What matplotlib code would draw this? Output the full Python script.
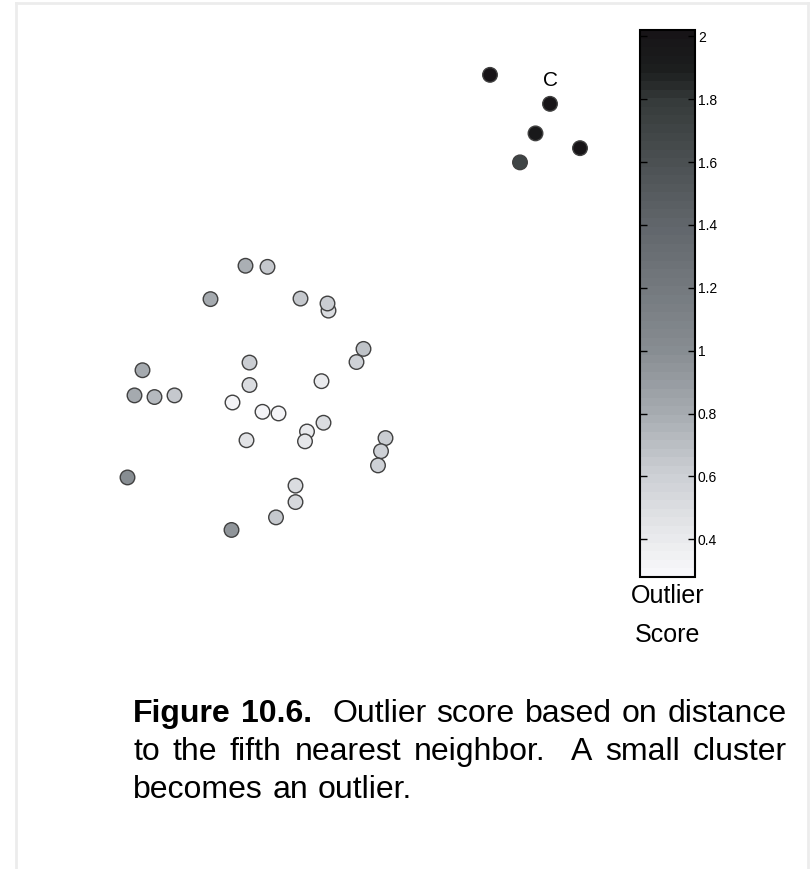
import matplotlib
matplotlib.use("Agg")
import matplotlib.pyplot as plt
from matplotlib.colors import LinearSegmentedColormap, Normalize
from matplotlib.cm import ScalarMappable
from matplotlib.lines import Line2D

W, H = 811, 869

# point positions (plot units) and outlier score = distance to 5th nearest neighbour
x = [2.91, 3.35, 2.21, 4.01, 4.57, 4.55, 5.27, 5.13, 0.85, 2.99,
     2.99, 4.43, 0.69, 1.09, 1.49, 2.65, 3.25, 3.57, 4.47, 4.14,
     4.10, 2.93, 5.71, 5.62, 5.56, 0.55, 3.91, 3.91, 3.52, 2.63,
     7.80, 9.00, 8.71, 9.60, 8.40]
y = [5.69, 5.67, 5.08, 5.09, 4.87, 5.00, 4.17, 3.93, 3.78, 3.92,
     3.51, 3.58, 3.32, 3.29, 3.32, 3.19, 3.02, 2.99, 2.82, 2.66,
     2.48, 2.50, 2.54, 2.30, 2.04, 1.82, 1.67, 1.37, 1.09, 0.86,
     9.18, 8.65, 8.11, 7.84, 7.58]
score = [0.78, 0.66, 0.80, 0.66, 0.50, 0.62, 0.68, 0.60, 0.80, 0.62,
         0.50, 0.40, 0.80, 0.72, 0.66, 0.33, 0.33, 0.33, 0.52, 0.40,
         0.42, 0.47, 0.62, 0.58, 0.60, 1.00, 0.52, 0.55, 0.66, 0.95,
         2.00, 2.00, 1.95, 2.00, 1.70]

cb_ticks = [0.4, 0.6, 0.8, 1.0, 1.2, 1.4, 1.6, 1.8, 2.0]
cb_labels = ["0.4", "0.6", "0.8", "1", "1.2", "1.4", "1.6", "1.8", "2"]
vmin, vmax = 0.28, 2.02

caption = [["Figure", "10.6.", "Outlier", "score", "based", "on", "distance"],
           ["to", "the", "fifth", "nearest", "neighbor.", "A", "small", "cluster"],
           ["becomes", "an", "outlier."]]
bold_words = 2  # "Figure 10.6." is bold

# grey map with a faint cool tint, 64 steps like the original
stops = [(0.28, (0.97, 0.97, 0.98)), (0.40, (0.91, 0.915, 0.925)),
         (0.60, (0.80, 0.81, 0.83)), (0.80, (0.65, 0.67, 0.69)),
         (1.00, (0.53, 0.55, 0.57)), (1.40, (0.38, 0.40, 0.42)),
         (1.80, (0.21, 0.23, 0.23)), (1.90, (0.11, 0.12, 0.12)),
         (2.02, (0.09, 0.08, 0.09))]
cmap = LinearSegmentedColormap.from_list(
    "score", [((v - vmin) / (vmax - vmin), c) for v, c in stops], N=64)
norm = Normalize(vmin, vmax)

plt.rcParams['font.family'] = ['Liberation Sans', 'DejaVu Sans']
fig = plt.figure(figsize=(W / 100, H / 100), dpi=100)


def px(l, t, w, h):
    return [l / W, 1 - (t + h) / H, w / W, h / H]


ax = fig.add_axes(px(100, 30, 500, 547))
ax.scatter(x, y, c=score, cmap=cmap, norm=norm, s=110,
           edgecolors="#404040", linewidths=1.0, zorder=3)
ax.text(9.0, 9.07, "C", fontsize=15, ha="center", va="center")
ax.set_xlim(0, 10)
ax.set_ylim(0, 10)
ax.axis("off")

cax = fig.add_axes(px(640, 30, 55, 547))
cb = fig.colorbar(ScalarMappable(norm=norm, cmap=cmap), cax=cax)
cb.set_ticks(cb_ticks)
cb.set_ticklabels(cb_labels)
cb.outline.set_linewidth(1.5)
cax.tick_params(axis="y", direction="in", length=5, width=1,
                left=True, right=True, labelsize=10, pad=2)

fig.text(668 / W, 1 - 603 / H, "Outlier", ha="center", va="baseline", fontsize=18)
fig.text(668 / W, 1 - 642 / H, "Score", ha="center", va="baseline", fontsize=18)

# caption, justified like the book page
cap_font = ['Liberation Sans Narrow', 'Liberation Sans']
cap_size = 23
x0, x1 = 133, 787
baselines = [722, 760, 798]
r = fig.canvas.get_renderer()
k = 0
for i, words in enumerate(caption):
    txts = []
    for w in words:
        t = fig.text(0, 1 - baselines[i] / H, w, fontsize=cap_size,
                     family=cap_font, va="baseline",
                     fontweight="bold" if k < bold_words else "normal")
        txts.append(t)
        k += 1
    widths = [t.get_window_extent(r).width for t in txts]
    weights = [2.0 if w.endswith(".") else 1.0 for w in words[:-1]]
    if i < len(caption) - 1:
        unit = (x1 - x0 - sum(widths)) / sum(weights)
    else:
        unit = cap_size * 100 / 72 * 0.3
    pos = x0
    for t, wd, g in zip(txts, widths, weights + [0]):
        t.set_x(pos / W)
        pos += wd + g * unit

# faint page frame
fig.add_artist(Line2D([16 / W, 16 / W], [0, 1 - 3 / H], color="#ececec", lw=2))
fig.add_artist(Line2D([16 / W, 808 / W], [1 - 3 / H, 1 - 3 / H], color="#ececec", lw=2))
fig.add_artist(Line2D([808 / W, 808 / W], [0, 1 - 3 / H], color="#ececec", lw=2))

fig.savefig("out.png", dpi=100, facecolor="white")
